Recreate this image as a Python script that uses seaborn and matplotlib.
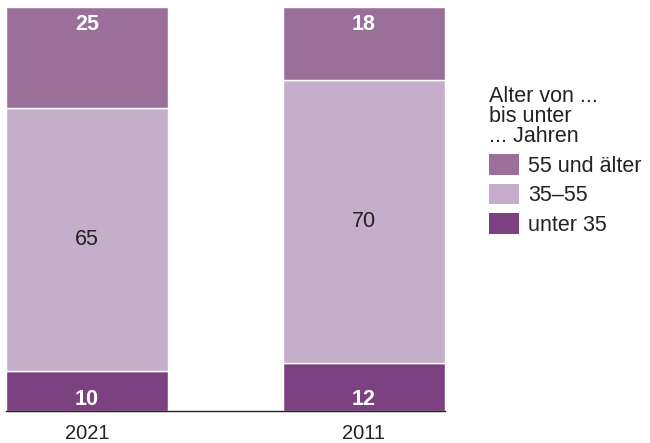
import matplotlib.pyplot as plt
import seaborn as sns
import pandas as pd
from matplotlib.patches import Patch

years = ["2021", "2011"]
unter_35 = [10, 12]
mitte_35_55 = [65, 70]
ab_55 = [25, 18]
series_labels = ["55 und älter", "35–55", "unter 35"]
colors = {"unter 35": "#7c4180", "35–55": "#c5aec9", "55 und älter": "#9a709b"}

sns.set_theme(style="white")
plt.rcParams["font.family"] = ["Liberation Sans", "DejaVu Sans"]

df = pd.DataFrame({"year": years, "unter 35": unter_35,
                   "35–55": mitte_35_55, "55 und älter": ab_55})
df["b1"] = df["unter 35"]
df["b2"] = df["unter 35"] + df["35–55"]

fig = plt.figure(figsize=(6.5, 4.43), dpi=100)
ax = fig.add_axes([6 / 650, 32 / 443, 439 / 650, 404 / 443])

width = 0.585
fs = 15.5
sns.barplot(data=df, x="year", y="unter 35", color=colors["unter 35"],
            width=width, saturation=1, edgecolor="white", linewidth=1, ax=ax)
sns.barplot(data=df, x="year", y="35–55", bottom=df["b1"], color=colors["35–55"],
            width=width, saturation=1, edgecolor="white", linewidth=1, ax=ax)
sns.barplot(data=df, x="year", y="55 und älter", bottom=df["b2"],
            color=colors["55 und älter"], width=width, saturation=1,
            edgecolor="white", linewidth=1, ax=ax)

for i, row in df.iterrows():
    ax.text(i, 2.9, str(row["unter 35"]), ha="center", va="center",
            color="white", fontsize=fs, fontweight="bold")
    ax.text(i, row["b1"] + row["35–55"] / 2, str(row["35–55"]), ha="center",
            va="center", color="#222222", fontsize=fs)
    ax.text(i, 95.6, str(row["55 und älter"]), ha="center", va="center",
            color="white", fontsize=fs, fontweight="bold")

ax.set_xlim(-width / 2, 1 + width / 2)
ax.set_ylim(0, 100)
ax.set_xlabel("")
ax.set_ylabel("")
ax.set_yticks([])
ax.tick_params(axis="x", length=0, pad=9.5, labelsize=14.5, labelcolor="#222222")
for s in ["top", "right", "left"]:
    ax.spines[s].set_visible(False)
ax.spines["bottom"].set_color("#222222")
ax.spines["bottom"].set_linewidth(1)

handles = [Patch(facecolor=colors[l], edgecolor="none") for l in series_labels]
leg = fig.legend(handles, series_labels, title="Alter von ...\nbis unter\n... Jahren",
                 loc="upper left", bbox_to_anchor=(489 / 650, 1 - 86 / 443),
                 frameon=False, fontsize=fs, title_fontsize=fs, alignment="left",
                 handlelength=1.4, handleheight=1.1, handletextpad=0.4,
                 labelspacing=0.32, borderaxespad=0, borderpad=0)
for t in leg.get_texts():
    t.set_color("#222222")
leg.get_title().set_color("#222222")
leg.get_title().set_linespacing(0.95)

fig.savefig("out.png", dpi=100)
